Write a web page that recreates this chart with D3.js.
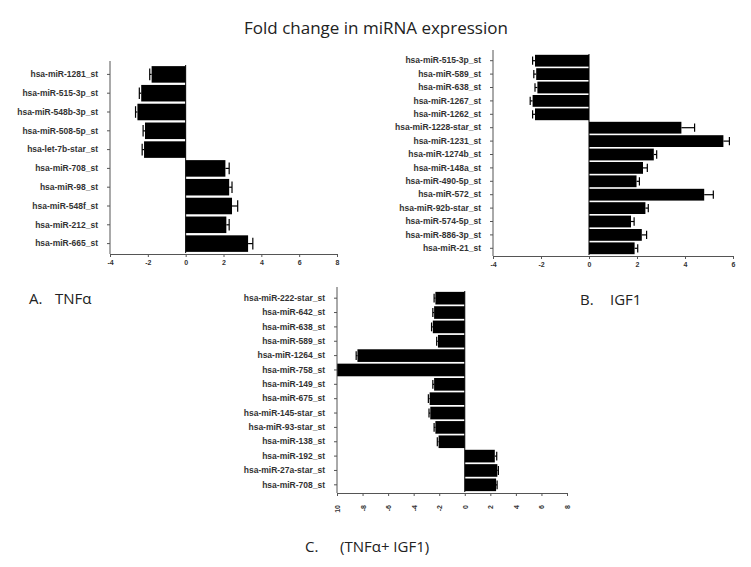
<!DOCTYPE html>
<html>
<head>
<meta charset="utf-8">
<script src="https://cdn.jsdelivr.net/npm/d3@7"></script>
<style>
  body { margin: 0; background: #fff; }
  svg text { fill: #222; }
</style>
</head>
<body>
<div id="chart"></div>
<script>
// panel A: TNFa
var catsA = ['hsa-miR-1281_st', 'hsa-miR-515-3p_st', 'hsa-miR-548b-3p_st', 'hsa-miR-508-5p_st',
  'hsa-let-7b-star_st', 'hsa-miR-708_st', 'hsa-miR-98_st', 'hsa-miR-548f_st', 'hsa-miR-212_st', 'hsa-miR-665_st'];
var valsA = [-1.8, -2.35, -2.55, -2.15, -2.2, 2.1, 2.3, 2.45, 2.15, 3.3];
var errsA = [0.1, 0.1, 0.1, 0.1, 0.1, 0.2, 0.15, 0.3, 0.15, 0.25];
var ticksA = [-4, -2, 0, 2, 4, 6, 8];

// panel B: IGF1
var catsB = ['hsa-miR-515-3p_st', 'hsa-miR-589_st', 'hsa-miR-638_st', 'hsa-miR-1267_st', 'hsa-miR-1262_st',
  'hsa-miR-1228-star_st', 'hsa-miR-1231_st', 'hsa-miR-1274b_st', 'hsa-miR-148a_st', 'hsa-miR-490-5p_st',
  'hsa-miR-572_st', 'hsa-miR-92b-star_st', 'hsa-miR-574-5p_st', 'hsa-miR-886-3p_st', 'hsa-miR-21_st'];
var valsB = [-2.25, -2.2, -2.15, -2.35, -2.25, 3.85, 5.6, 2.7, 2.25, 1.98, 4.8, 2.35, 1.75, 2.2, 1.9];
var errsB = [0.1, 0.1, 0.1, 0.1, 0.1, 0.55, 0.25, 0.12, 0.18, 0.12, 0.38, 0.12, 0.13, 0.2, 0.13];
var ticksB = [-4, -2, 0, 2, 4, 6];

// panel C: TNFa + IGF1
var catsC = ['hsa-miR-222-star_st', 'hsa-miR-642_st', 'hsa-miR-638_st', 'hsa-miR-589_st', 'hsa-miR-1264_st',
  'hsa-miR-758_st', 'hsa-miR-149_st', 'hsa-miR-675_st', 'hsa-miR-145-star_st', 'hsa-miR-93-star_st',
  'hsa-miR-138_st', 'hsa-miR-192_st', 'hsa-miR-27a-star_st', 'hsa-miR-708_st'];
var valsC = [-2.3, -2.4, -2.5, -2.1, -8.4, -10, -2.4, -2.75, -2.7, -2.3, -2.05, 2.35, 2.55, 2.45];
var errsC = [0.1, 0.1, 0.1, 0.1, 0.1, 0, 0.1, 0.1, 0.1, 0.1, 0.1, 0.15, 0.08, 0.08];
var ticksC = [-10, -8, -6, -4, -2, 0, 2, 4, 6, 8];
var tickLabelsC = ['10', '-8', '-6', '-4', '-2', '0', '2', '4', '6', '8'];

var width = 751, height = 567;

var svg = d3.select('#chart')
  .append('svg')
  .attr('width', width)
  .attr('height', height)
  .style('font-family', 'Liberation Sans, Arial, sans-serif');

svg.append('text')
  .attr('x', 376)
  .attr('y', 34)
  .attr('text-anchor', 'middle')
  .style('font-family', 'Open Sans, sans-serif')
  .style('font-size', '17px')
  .text('Fold change in miRNA expression');

function drawPanel(cats, vals, errs, ticks, tickLabels, x0, x1, y0, y1, rotateTicks) {
  var x = d3.scaleLinear().domain([ticks[0], ticks[ticks.length - 1]]).range([x0, x1]);
  var y = d3.scaleBand().domain(cats).range([y0, y1]).paddingInner(0.12).paddingOuter(0.06);
  var g = svg.append('g');

  // bars
  g.selectAll('rect.bar')
    .data(cats)
    .enter()
    .append('rect')
    .attr('class', 'bar')
    .attr('x', function(d, i){ return x(Math.min(0, vals[i])); })
    .attr('y', function(d){ return y(d); })
    .attr('width', function(d, i){ return Math.abs(x(vals[i]) - x(0)); })
    .attr('height', y.bandwidth())
    .style('fill', '#000');

  // error bars
  cats.forEach(function(d, i){
    if (!errs[i]) return;
    var v = vals[i], e = v < 0 ? v - errs[i] : v + errs[i];
    var cy = y(d) + y.bandwidth() / 2, h = y.bandwidth() * 0.35;
    g.append('line')
      .attr('x1', x(v)).attr('x2', x(e))
      .attr('y1', cy).attr('y2', cy)
      .style('stroke', '#000').style('stroke-width', 1.2);
    g.append('line')
      .attr('x1', x(e)).attr('x2', x(e))
      .attr('y1', cy - h).attr('y2', cy + h)
      .style('stroke', '#000').style('stroke-width', 1.2);
  });

  // zero line
  g.append('line')
    .attr('x1', x(0)).attr('x2', x(0))
    .attr('y1', y0).attr('y2', y1)
    .style('stroke', '#000').style('stroke-width', 1);

  // category axis on the left
  var yAxis = g.append('g')
    .attr('transform', 'translate(' + x0 + ',0)')
    .call(d3.axisLeft(y).tickSize(3).tickPadding(9));
  yAxis.select('.domain').attr('d', 'M0,' + (y0 - 4) + 'V' + (y1 + 1));
  yAxis.selectAll('text')
    .style('font-size', '8.5px')
    .style('font-weight', 'bold')
    .style('fill', '#333');

  // value axis at the bottom
  var xAxis = g.append('g')
    .attr('transform', 'translate(0,' + (y1 + 1) + ')')
    .call(d3.axisBottom(x).tickValues(ticks).tickSize(3)
      .tickFormat(function(d, i){ return tickLabels ? tickLabels[i] : d; }));
  xAxis.selectAll('text')
    .style('font-size', '7px')
    .style('font-weight', 'bold')
    .style('fill', '#333');
  if (rotateTicks) {
    xAxis.selectAll('text')
      .attr('transform', 'rotate(-90)')
      .attr('text-anchor', 'end')
      .attr('x', -12)
      .attr('y', 0)
      .attr('dy', '0.35em');
  }
  g.selectAll('.domain, .tick line').style('stroke', '#555');
}

drawPanel(catsA, valsA, errsA, ticksA, null, 110, 337, 65, 253, false);
drawPanel(catsB, valsB, errsB, ticksB, null, 493, 733, 54, 255, false);
drawPanel(catsC, valsC, errsC, ticksC, tickLabelsC, 337, 567, 291, 492, true);

// panel captions
var caps = [
  {x: 29, tx: 55, y: 304, a: 'A.', b: 'TNF\u03b1'},
  {x: 580, tx: 610, y: 305, a: 'B.', b: 'IGF1'},
  {x: 305, tx: 340, y: 552, a: 'C.', b: '(TNF\u03b1+ IGF1)'}
];
caps.forEach(function(c){
  svg.append('text').attr('x', c.x).attr('y', c.y)
    .style('font-family', 'Open Sans, sans-serif').style('font-size', '15px').text(c.a);
  svg.append('text').attr('x', c.tx).attr('y', c.y)
    .style('font-family', 'Open Sans, sans-serif').style('font-size', '15px').text(c.b);
});
</script>
</body>
</html>
